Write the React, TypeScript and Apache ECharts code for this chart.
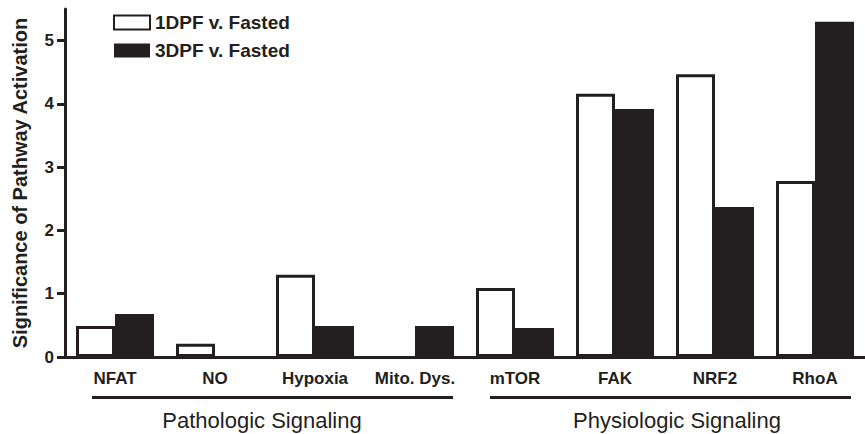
import React, { useEffect, useRef } from "react";
import * as echarts from "echarts";

const categories = ["NFAT", "NO", "Hypoxia", "Mito. Dys.", "mTOR", "FAK", "NRF2", "RhoA"];
const series1Name = "1DPF v. Fasted";
const series2Name = "3DPF v. Fasted";
// null = no bar drawn (value of zero in the reference)
const series1Values = [0.49, 0.21, 1.3, null, 1.09, 4.16, 4.47, 2.78];
const series2Values = [0.68, null, 0.49, 0.49, 0.46, 3.92, 2.37, 5.3];
const yTicks = [0, 1, 2, 3, 4, 5];
const groupLabels = ["Pathologic Signaling", "Physiologic Signaling"];

const INK = "#231f20";
const FONT = "Liberation Sans, Arial, sans-serif";

export default function App() {
  const ref = useRef<HTMLDivElement>(null);
  useEffect(() => {
    if (!ref.current) return;
    const chart = echarts.init(ref.current, null, { renderer: "svg" });
    chart.setOption({
      animation: false,
      backgroundColor: "#ffffff",
      textStyle: { fontFamily: FONT },
      grid: { left: 65, right: -8, top: 9, bottom: 77, containLabel: false },
      legend: {
        orient: "vertical",
        left: 108,
        top: 8,
        itemWidth: 36,
        itemHeight: 14,
        itemGap: 9,
        icon: "rect",
        textStyle: { fontSize: 19, fontWeight: "bold", color: INK },
        data: [series1Name, series2Name],
      },
      xAxis: {
        type: "category",
        data: categories,
        axisLine: { lineStyle: { color: INK, width: 3 } },
        axisTick: { alignWithLabel: true, length: 7, lineStyle: { color: INK, width: 3 } },
        axisLabel: { color: INK, fontSize: 17, fontWeight: "bold", margin: 13, interval: 0 },
        splitLine: { show: false },
      },
      yAxis: {
        type: "value",
        min: 0,
        max: 5.5,
        interval: 1,
        name: "Significance of Pathway Activation",
        nameLocation: "middle",
        nameRotate: 90,
        nameGap: 35,
        nameTextStyle: { fontSize: 20, fontWeight: "bold", color: INK },
        axisLine: { show: true, lineStyle: { color: INK, width: 3 } },
        axisTick: { show: true, length: 8, customValues: yTicks, lineStyle: { color: INK, width: 3 } },
        axisLabel: { color: INK, fontSize: 17, fontWeight: "bold", margin: 11, customValues: yTicks },
        splitLine: { show: false },
      },
      series: [
        {
          name: series1Name,
          type: "bar",
          data: series1Values,
          barWidth: 39,
          barGap: "0%",
          itemStyle: { color: "#ffffff", borderColor: INK, borderWidth: 3 },
        },
        {
          name: series2Name,
          type: "bar",
          data: series2Values,
          barWidth: 39,
          barGap: "0%",
          itemStyle: { color: INK },
        },
      ],
      graphic: [
        { type: "line", shape: { x1: 92, y1: 397.5, x2: 453, y2: 397.5 }, style: { stroke: INK, lineWidth: 3 } },
        { type: "line", shape: { x1: 490, y1: 397.5, x2: 851, y2: 397.5 }, style: { stroke: INK, lineWidth: 3 } },
        {
          type: "text",
          x: 262,
          y: 420,
          style: { text: groupLabels[0], fontSize: 22, fill: INK, align: "center", verticalAlign: "middle", fontFamily: FONT },
        },
        {
          type: "text",
          x: 677,
          y: 420,
          style: { text: groupLabels[1], fontSize: 22, fill: INK, align: "center", verticalAlign: "middle", fontFamily: FONT },
        },
      ],
    });
    return () => chart.dispose();
  }, []);
  return <div ref={ref} style={{ position: "fixed", left: 0, top: 0, width: 865, height: 434 }} />;
}
